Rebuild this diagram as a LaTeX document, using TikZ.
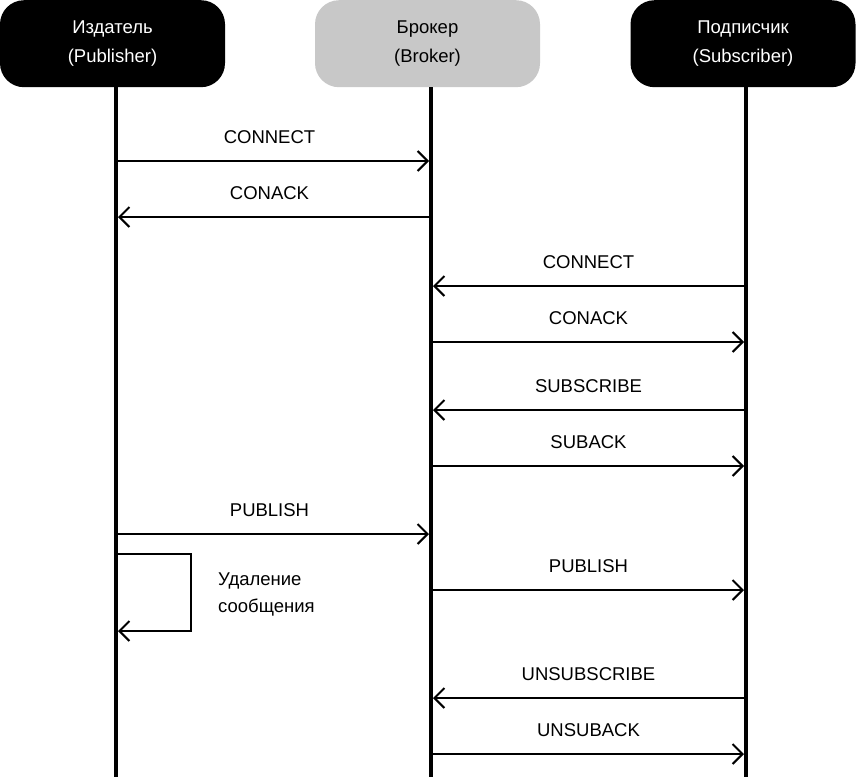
\documentclass[tikz,border=0pt]{standalone}
\usepackage{fontspec}
\setmainfont{Liberation Sans}
\definecolor{headdark}{HTML}{000000}
\definecolor{headgray}{HTML}{C8C8C8}
\usetikzlibrary{arrows.meta, positioning, calc}
\tikzset{
  head/.style={
    fill=#1, rounded corners=24pt, minimum width=225pt,
    minimum height=87pt, inner sep=0pt, align=center,
    font=\fontsize{18.5}{29}\selectfont
  },
  head/.default=headdark,
  life/.style={line width=4pt},
  msg/.style={-{Straight Barb[length=10pt,width=20pt]}, line width=2pt},
  lbl/.style={font=\fontsize{18.5}{27}\selectfont, inner sep=0pt},
}

\begin{document}
\begin{tikzpicture}[x=1pt, y=-1pt]
    \useasboundingbox (0,0) rectangle (856,777);

    \node[head, text=white, anchor=north] (pub) at (112.5,0)
      {Издатель\\(Publisher)};
    \node[head=headgray, text=black, anchor=north] (brk) at (427.5,0)
      {Брокер\\(Broker)};
    \node[head, text=white, anchor=north] (sub) at (743,0)
      {Подписчик\\(Subscriber)};

    \coordinate (pubT) at (116,87);
    \coordinate (brkT) at (431,87);
    \coordinate (subT) at (746,87);
    \coordinate (pubE) at (116,777);
    \coordinate (brkE) at (431,777);
    \coordinate (subE) at (746,777);
    \draw[life] (pubT) -- (pubE);
    \draw[life] (brkT) -- (brkE);
    \draw[life] (subT) -- (subE);

    % message rows
    \foreach \y [count=\i] in {161,217,286,342,410,466,534,590,698,754} {
      \coordinate (p\i) at (118,\y);
      \coordinate (b\i) at (429,\y);
      \coordinate (bb\i) at (433,\y);
      \coordinate (s\i) at (744,\y);
    }

    \draw[msg] (p1) -- node[lbl, above=16pt, xshift=-4pt] (m1) {CONNECT} (b1);
    \draw[msg] (b2) -- node[lbl, above=16pt, xshift=-4pt] (m2) {CONACK} (p2);
    \draw[msg] (s3) -- node[lbl, above=16pt] (m3) {CONNECT} (bb3);
    \draw[msg] (bb4) -- node[lbl, above=16pt] (m4) {CONACK} (s4);
    \draw[msg] (s5) -- node[lbl, above=16pt] (m5) {SUBSCRIBE} (bb5);
    \draw[msg] (bb6) -- node[lbl, above=16pt] (m6) {SUBACK} (s6);
    \draw[msg] (p7) -- node[lbl, above=16pt, xshift=-4pt] (m7) {PUBLISH} (b7);
    \draw[msg] (bb8) -- node[lbl, above=16pt] (m8) {PUBLISH} (s8);
    \draw[msg] (s9) -- node[lbl, above=16pt] (m9) {UNSUBSCRIBE} (bb9);
    \draw[msg] (bb10) -- node[lbl, above=16pt] (m10) {UNSUBACK} (s10);

    % self message
    \coordinate (del1) at (116,554);
    \coordinate (delc) at (191,590);
    \coordinate (del2) at (118,631);
    \draw[msg] (del1) -| (delc) |- (del2);
    \node[lbl, align=left, anchor=west] (del) at (218,594)
      {Удаление\\сообщения};
  \end{tikzpicture}
\end{document}
